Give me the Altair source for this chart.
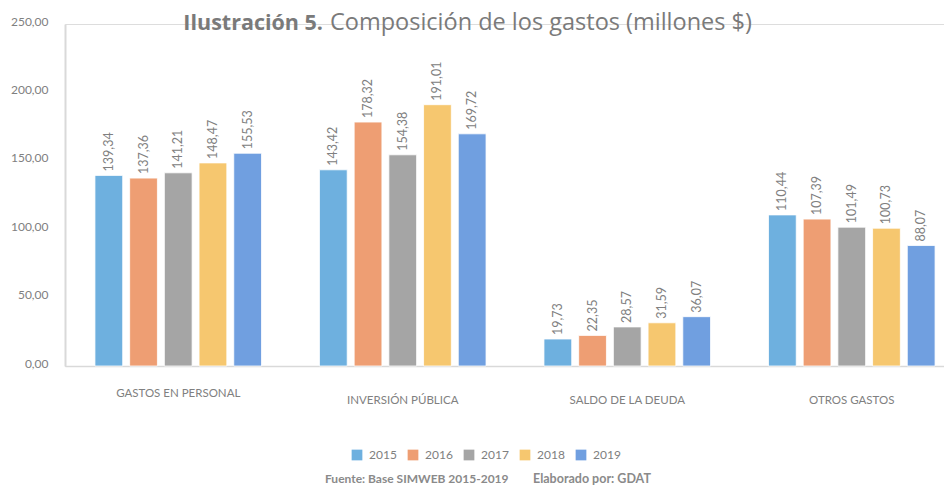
import altair as alt
import pandas as pd

categories = ["GASTOS EN PERSONAL", "INVERSIÓN PÚBLICA", "SALDO DE LA DEUDA", "OTROS GASTOS"]
years = ["2015", "2016", "2017", "2018", "2019"]
v2015 = [139.34, 143.42, 19.73, 110.44]
v2016 = [137.36, 178.32, 22.35, 107.39]
v2017 = [141.21, 154.38, 28.57, 101.49]
v2018 = [148.47, 191.01, 31.59, 100.73]
v2019 = [155.53, 169.72, 36.07, 88.07]
colors = ["#6EB0DF", "#EE9E73", "#A5A5A5", "#F6C76F", "#709FE0"]
y_ticks = [0, 50, 100, 150, 200, 250]

series = [v2015, v2016, v2017, v2018, v2019]
rows = []
for yr, vals in zip(years, series):
    for c, v in zip(categories, vals):
        rows.append({"cat": c, "year": yr, "val": v})
df = pd.DataFrame(rows)

FONT = "Lato"
GRAY = "#808080"

x_enc = alt.X("cat:N", sort=categories, title=None,
              scale=alt.Scale(paddingInner=0.258, paddingOuter=0.0866, align=0.77),
              axis=alt.Axis(labelAngle=0, ticks=False, domainColor="#d9d9d9",
                            labelPadding={"condition": {"test": "datum.value === 'GASTOS EN PERSONAL'", "value": 21}, "value": 28},
                            domainWidth=1.5, labelColor=GRAY, labelFont=FONT, labelFontSize=11.5))
xo_enc = alt.XOffset("year:N", sort=years, scale=alt.Scale(paddingInner=0.2, paddingOuter=0))
y_enc = alt.Y("val:Q", title=None, scale=alt.Scale(domain=[0, 250], nice=False),
              axis=alt.Axis(values=y_ticks, grid=False, ticks=False, domainColor="#d9d9d9",
                            domainWidth=2, labelColor=GRAY, labelFont=FONT, labelFontSize=12,
                            labelPadding=17, labelOffset=-3,
                            labelExpr="replace(format(datum.value, '.2f'), '.', ',')"))

bars = alt.Chart(df).mark_bar(stroke="white", strokeWidth=0.8).encode(
    x=x_enc, xOffset=xo_enc, y=y_enc,
    color=alt.Color("year:N", sort=years, scale=alt.Scale(domain=years, range=colors),
                    legend=alt.Legend(title=None, orient="none", direction="horizontal",
                                      legendX=286, legendY=425, symbolType="square",
                                      symbolSize=115, symbolStrokeWidth=0, labelColor=GRAY,
                                      labelFont=FONT, labelFontSize=12, labelOffset=6,
                                      columnPadding=10)),
)

labels = alt.Chart(df).transform_calculate(
    lab="replace(format(datum.val, '.2f'), '.', ',')"
).mark_text(angle=270, align="left", baseline="middle", dx=4, color=GRAY,
            font=FONT, fontSize=12.5).encode(
    x=alt.X("cat:N", sort=categories), xOffset=alt.XOffset("year:N", sort=years),
    y="val:Q", text="lab:N")

title_bold = alt.Chart(pd.DataFrame({"t": ["Ilustración 5."]})).mark_text(
    align="right", baseline="alphabetic", font="Open Sans", fontSize=21.5, fontWeight="bold",
    color="#7a7a7a").encode(x=alt.value(258), y=alt.value(6), text="t:N")
title_reg = alt.Chart(pd.DataFrame({"t": ["Composición de los gastos (millones $)"]})).mark_text(
    align="left", baseline="alphabetic", font="Open Sans", fontSize=23.5,
    color="#7a7a7a").encode(x=alt.value(265), y=alt.value(6), text="t:N")

foot1 = alt.Chart(pd.DataFrame({"t": ["Fuente: Base SIMWEB 2015-2019"]})).mark_text(
    align="left", baseline="middle", font=FONT, fontSize=12, fontWeight="bold",
    color="#8a8a8a").encode(x=alt.value(260), y=alt.value(455), text="t:N")
foot2 = alt.Chart(pd.DataFrame({"t": ["Elaborado por: GDAT"]})).mark_text(
    align="left", baseline="middle", font=FONT, fontSize=12.5, fontWeight="bold",
    color="#8a8a8a").encode(x=alt.value(468), y=alt.value(455), text="t:N")

chart = alt.layer(bars, labels, title_bold, title_reg, foot1, foot2).properties(
    width=879, height=342,
    autosize=alt.AutoSizeParams(type="none"),
    padding={"left": 57, "top": 16, "right": 0, "bottom": 121},
).configure_view(stroke=None).configure(background="white")

chart.save("out.html", embed_options={"renderer": "svg", "actions": False})
